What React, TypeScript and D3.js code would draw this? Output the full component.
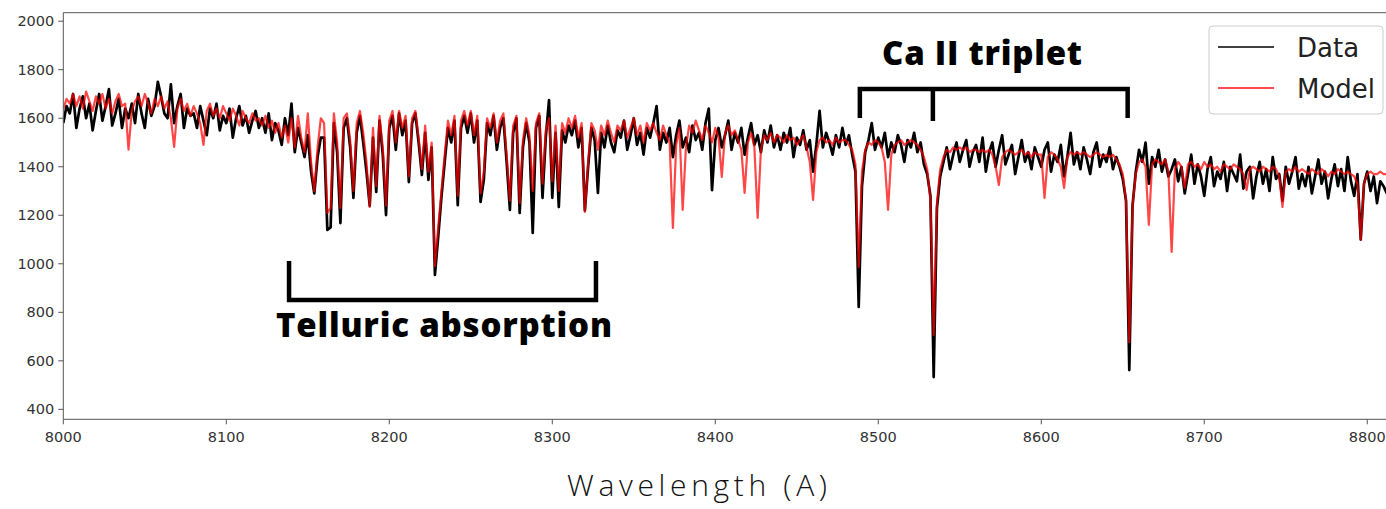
import * as d3 from "d3";

// spectrum sampled every 2 A from 8000 A
const waveStart = 8000;
const waveStep = 2;

const flux = [
  1580,1650,1620,1700,1560,1640,1690,1600,1660,1550,1630,1700,1590,1650,1720,1570,1620,1680,1560,1640,
  1600,1660,1580,1700,1620,1560,1680,1610,1650,1750,1690,1620,1600,1740,1580,1650,1700,1560,1640,1610,
  1620,1560,1650,1590,1530,1640,1600,1660,1550,1610,1580,1640,1520,1600,1650,1570,1610,1540,1590,1630,
  1560,1600,1540,1620,1510,1580,1550,1490,1600,1530,1660,1460,1560,1500,1440,1530,1380,1290,1440,1520,
  1520,1140,1150,1580,1460,1168,1560,1600,1480,1272,1540,1610,1500,1380,1240,1520,1296,1590,1450,1201,
  1560,1610,1470,1620,1530,1590,1337,1580,1620,1500,1366,1540,1346,1480,954,1110,1276,1420,1560,1500,
  1590,1242,1560,1610,1540,1620,1500,1590,1255,1346,1580,1530,1610,1470,1560,1600,1420,1222,1540,1600,
  1210,1480,1580,1500,1127,1560,1610,1272,1520,1675,1272,1540,1234,1550,1500,1570,1530,1590,1480,1560,
  1220,1400,1560,1510,1292,1540,1480,1570,1500,1460,1550,1520,1590,1470,1530,1600,1490,1540,1450,1560,
  1520,1580,1650,1470,1540,1500,1560,1440,1530,1590,1480,1520,1460,1570,1510,1540,1470,1580,1640,1304,
  1510,1560,1480,1530,1590,1470,1540,1500,1560,1450,1520,1580,1490,1530,1460,1550,1500,1570,1480,1530,
  1470,1540,1500,1560,1440,1520,1490,1550,1470,1510,1380,1490,1630,1480,1540,1500,1450,1530,1480,1560,
  1490,1530,1450,1380,822,1320,1460,1510,1580,1470,1520,1480,1540,1440,1500,1460,1530,1490,1420,1510,
  1480,1540,1460,1500,1410,1370,1280,533,1230,1360,1420,1480,1390,1450,1500,1420,1470,1510,1400,1460,
  1490,1420,1520,1380,1460,1500,1400,1470,1530,1410,1450,1490,1370,1440,1510,1420,1460,1390,1480,1440,
  1400,1470,1500,1380,1450,1420,1490,1360,1440,1540,1410,1460,1390,1480,1430,1370,1460,1500,1400,1450,
  1420,1480,1390,1440,1400,1350,1260,562,1240,1380,1470,1420,1500,1330,1440,1400,1470,1380,1430,1360,
  1390,1430,1340,1400,1290,1370,1450,1330,1410,1360,1280,1390,1440,1320,1380,1350,1420,1300,1400,1370,
  1340,1450,1310,1380,1400,1270,1360,1420,1330,1390,1300,1440,1350,1370,1260,1400,1330,1380,1440,1310,
  1370,1320,1400,1290,1360,1430,1330,1380,1270,1350,1410,1320,1390,1300,1440,1340,1280,1370,1100,1330,
  1380,1300,1360,1250,1340,1320,1290,
];

const model = [
  1640,1680,1660,1700,1650,1690,1640,1710,1670,1630,1690,1660,1700,1640,1680,1620,1670,1700,1650,1660,
  1470,1630,1670,1690,1650,1700,1660,1620,1680,1650,1690,1640,1670,1600,1482,1640,1680,1630,1660,1610,
  1650,1620,1580,1490,1630,1660,1610,1640,1600,1650,1620,1590,1640,1610,1570,1630,1600,1580,1620,1590,
  1600,1570,1610,1560,1590,1540,1580,1520,1570,1500,1600,1480,1610,1520,1460,1620,1420,1300,1480,1600,
  1580,1210,1230,1620,1500,1230,1600,1620,1510,1300,1580,1630,1540,1420,1234,1560,1320,1610,1480,1240,
  1590,1630,1500,1630,1560,1610,1360,1600,1630,1520,1390,1570,1380,1500,990,1150,1300,1450,1590,1530,
  1610,1280,1590,1630,1570,1630,1530,1610,1290,1380,1600,1560,1620,1500,1590,1620,1450,1260,1570,1610,
  1250,1510,1600,1530,1300,1580,1620,1330,1550,1600,1340,1570,1300,1580,1540,1600,1560,1610,1520,1580,
  1214,1420,1580,1550,1470,1570,1530,1590,1540,1500,1570,1550,1590,1520,1560,1600,1530,1570,1500,1580,
  1550,1580,1540,1510,1570,1530,1500,1148,1490,1560,1222,1480,1570,1540,1590,1550,1510,1570,1540,1500,
  1560,1520,1358,1540,1570,1530,1550,1510,1470,1292,1500,1540,1480,1189,1470,1530,1510,1540,1500,1530,
  1520,1500,1530,1510,1520,1490,1510,1530,1480,1420,1263,1460,1510,1520,1500,1510,1490,1520,1500,1510,
  1510,1490,1470,1410,987,1380,1470,1500,1490,1510,1500,1480,1420,1222,1450,1490,1500,1510,1490,1500,
  1510,1500,1490,1470,1440,1390,1260,707,1250,1390,1440,1470,1460,1480,1470,1480,1470,1480,1460,1470,
  1470,1460,1470,1460,1470,1450,1400,1325,1440,1460,1470,1460,1450,1460,1470,1450,1460,1440,1460,1450,
  1450,1272,1440,1460,1450,1430,1400,1313,1440,1460,1450,1460,1450,1460,1450,1440,1450,1460,1450,1440,
  1450,1440,1450,1430,1410,1370,1260,677,1240,1370,1420,1430,1400,1160,1410,1430,1420,1410,1430,1380,
  1049,1390,1420,1400,1313,1410,1420,1400,1410,1390,1420,1400,1410,1390,1400,1380,1410,1400,1390,1410,
  1400,1390,1370,1304,1390,1400,1390,1380,1400,1390,1380,1400,1390,1360,1234,1380,1390,1380,1400,1380,
  1390,1380,1370,1390,1380,1370,1390,1380,1360,1380,1370,1390,1380,1370,1380,1370,1360,1330,1099,1330,
  1370,1380,1370,1370,1380,1370,1370,
];

const yTicks = [400, 600, 800, 1000, 1200, 1400, 1600, 1800, 2000];
const xTicks = [8000, 8100, 8200, 8300, 8400, 8500, 8600, 8700, 8800];
const seriesNames = ["Data", "Model"];

// annotation brackets in data units (wavelength, flux)
const tellBracket = { x0: 8138.5, x1: 8326.8, yTop: 1012, yBar: 851 };
const caLines = [8488.7, 8533.5, 8653];
const caBar = 1721;
const caDrop = [1601, 1589, 1601];

const W = 1386;
const H = 509;

export default function App() {
  const x = d3.scaleLinear().domain([8000, 8811.5]).range([63.3, 1386]);
  const y = d3.scaleLinear().domain([359, 2035]).range([419.3, 12.7]);
  const [x0, x1] = x.range();
  const [yb, yt] = y.range();

  const pts = (arr: number[]) => arr.map((v, i) => [waveStart + i * waveStep, v] as [number, number]);
  const line = d3
    .line<[number, number]>()
    .x((d) => x(d[0]))
    .y((d) => y(d[1]));

  const tell = `M${x(tellBracket.x0)},${y(tellBracket.yTop)}V${y(tellBracket.yBar)}H${x(tellBracket.x1)}V${y(tellBracket.yTop)}`;
  const ca = `M${x(caLines[0])},${y(caDrop[0])}V${y(caBar)}H${x(caLines[2])}V${y(caDrop[2])}M${x(caLines[1])},${y(caBar)}V${y(caDrop[1])}`;

  return (
    <svg width={W} height={H} style={{ position: "absolute", left: 0, top: 0, background: "#fff" }}>
      <defs>
        <clipPath id="plot">
          <rect x={x0} y={yt} width={x1 - x0} height={yb - yt} />
        </clipPath>
      </defs>

      <g clipPath="url(#plot)">
        <path d={line(pts(flux)) || ""} fill="none" stroke="#000" strokeWidth={2.7} strokeLinejoin="round" />
        <path d={line(pts(model)) || ""} fill="none" stroke="red" strokeOpacity={0.72} strokeWidth={2.2} strokeLinejoin="round" />
      </g>

      {/* spines */}
      <g stroke="#555" strokeWidth={1} fill="none">
        <line x1={x0} x2={x0} y1={yt} y2={yb} />
        <line x1={x0} x2={x1} y1={yb} y2={yb} />
        <line x1={x0} x2={x1} y1={yt} y2={yt} />
      </g>

      <g fontFamily="DejaVu Sans" fontSize={14.5} fill="#333">
        {yTicks.map((t) => (
          <g key={t}>
            <line x1={x0 - 5} x2={x0} y1={y(t)} y2={y(t)} stroke="#555" />
            <text x={x0 - 9} y={y(t)} dy="0.35em" textAnchor="end">
              {t}
            </text>
          </g>
        ))}
        {xTicks.map((t) => (
          <g key={t}>
            <line x1={x(t)} x2={x(t)} y1={yb} y2={yb + 5} stroke="#555" />
            <text x={x(t)} y={yb + 23} textAnchor="middle">
              {t}
            </text>
          </g>
        ))}
      </g>

      <text x={697} y={496} textAnchor="middle" fontFamily="Open Sans" fontWeight={300} fontSize={30} textLength={260} fill="#111">
        Wavelength (A)
      </text>

      {/* annotations */}
      <path d={tell} fill="none" stroke="#000" strokeWidth={4.5} />
      <path d={ca} fill="none" stroke="#000" strokeWidth={4.5} />
      <text x={276} y={337} fontFamily="Open Sans" fontWeight={800} fontSize={33} textLength={336} fill="#000">
        Telluric absorption
      </text>
      <text x={882} y={65} fontFamily="Open Sans" fontWeight={800} fontSize={33} textLength={200} fill="#000">
        Ca II triplet
      </text>

      {/* legend */}
      <rect x={1209} y={26} width={174} height={88} rx={4} fill="#fff" fillOpacity={0.8} stroke="#ccc" />
      {seriesNames.map((s, i) => (
        <g key={s}>
          <line
            x1={1218}
            x2={1274}
            y1={47 + i * 41}
            y2={47 + i * 41}
            stroke={i === 0 ? "#000" : "red"}
            strokeOpacity={i === 0 ? 0.75 : 0.7}
            strokeWidth={2}
          />
          <text x={1297} y={57 + i * 41} fontFamily="DejaVu Sans" fontSize={26} fill="#222">
            {s}
          </text>
        </g>
      ))}
    </svg>
  );
}
